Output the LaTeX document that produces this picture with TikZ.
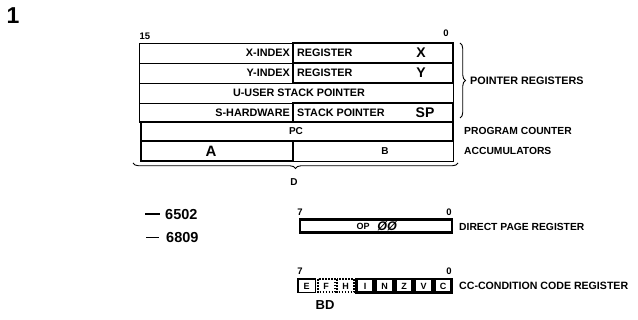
\documentclass[tikz,border=0pt]{standalone}
\usepackage{fontspec}
\setmainfont{Liberation Sans}
\usetikzlibrary{decorations.pathreplacing}
\begin{document}
\begin{tikzpicture}[x=1pt,y=-1pt,
  thinb/.style={draw=black,line width=0.8pt},
  thickb/.style={draw=black,line width=2.6pt},
  dotb/.style={draw=black,line width=2pt,dash pattern=on 1.6pt off 1.4pt},
  txt/.style={inner sep=0pt,font=\bfseries\fontsize{10.8}{12}\selectfont},
  side/.style={inner sep=0pt,anchor=west,font=\bfseries\fontsize{10.3}{12}\selectfont},
  big/.style={inner sep=0pt,font=\bfseries\fontsize{14}{15}\selectfont},
  small/.style={inner sep=0pt,font=\bfseries\fontsize{9.5}{10}\selectfont},
  bit/.style={inner sep=0pt,font=\bfseries\fontsize{9}{10}\selectfont},
  brc/.style={decorate,decoration={brace,amplitude=5.5pt},line width=0.9pt}]
\useasboundingbox (0,0) rectangle (638,320);
% figure number
\node[inner sep=0pt,font=\bfseries\fontsize{23}{25}\selectfont] (num) at (13,16) {1};
% main register block - thin parts
\draw[thinb] (139,43) rectangle (293,63);
\draw[thinb] (139,63) rectangle (293,83);
\draw[thinb] (139,83) rectangle (453,103);
\draw[thinb] (139,103) rectangle (293,122);
\draw[thinb] (293,141) rectangle (453,161);
% thick parts (6502)
\draw[thickb] (293,43) rectangle (453,63);
\draw[thickb] (293,63) rectangle (453,83);
\draw[thickb] (293,103) rectangle (453,122);
\draw[thickb] (141,122) rectangle (453,141);
\draw[thickb] (141,141) rectangle (293,161);
% bit numbers
\node[small] (b15) at (145,36.5) {15};
\node[small] (b0) at (446,33) {0};
% row texts
\node[txt,anchor=east] (xidx) at (290,53) {X-INDEX};
\node[txt,anchor=west] (xreg) at (297,53) {REGISTER};
\node[big] (xname) at (421,53) {X};
\node[txt,anchor=east] (yidx) at (290,73) {Y-INDEX};
\node[txt,anchor=west] (yreg) at (297,73) {REGISTER};
\node[big] (yname) at (421,73) {Y};
\node[txt] (usp) at (299,93) {U-USER STACK POINTER};
\node[txt,anchor=east] (shw) at (290,112.5) {S-HARDWARE};
\node[txt,anchor=west] (ssp) at (297,112.5) {STACK POINTER};
\node[big] (spname) at (425,112.5) {SP};
\node[txt,font=\bfseries\fontsize{10}{11}\selectfont] (pc) at (296,131.5) {PC};
\node[inner sep=0pt,font=\bfseries\fontsize{15}{16}\selectfont] (acca) at (211,151.5) {A};
\node[txt,font=\bfseries\fontsize{10}{11}\selectfont] (accb) at (385,151.5) {B};
% braces
\coordinate (pt) at (460,43);
\coordinate (pb) at (460,118);
\draw[brc] (pt) -- (pb);
\coordinate (dr) at (458,163);
\coordinate (dl) at (133,163);
\draw[brc] (dr) -- (dl);
\node[txt,font=\bfseries\fontsize{10}{11}\selectfont] (dlab) at (294,182) {D};
% side labels
\node[side,font=\bfseries\fontsize{10.8}{12}\selectfont] (ptrreg) at (470,81) {POINTER REGISTERS};
\node[side] (pclab) at (464,131) {PROGRAM COUNTER};
\node[side] (acclab) at (464,151) {ACCUMULATORS};
% legend
\coordinate (l1a) at (145,214);
\coordinate (l1b) at (160,214);
\draw[line width=2.8pt] (l1a) -- (l1b);
\node[inner sep=0pt,anchor=west,font=\bfseries\fontsize{14.5}{16}\selectfont] (l6502) at (165,214.5) {6502};
\coordinate (l2a) at (146,237);
\coordinate (l2b) at (159,237);
\draw[line width=0.7pt] (l2a) -- (l2b);
\node[inner sep=0pt,anchor=west,font=\bfseries\fontsize{14.5}{16}\selectfont] (l6809) at (166,237.5) {6809};
% direct page register
\node[small] (dp7) at (300,212) {7};
\node[small] (dp0) at (449,212) {0};
\draw[thickb] (300,219.5) rectangle (452,232.5);
\node[txt,font=\bfseries\fontsize{9}{10}\selectfont] (dpop) at (363,226.5) {OP};
\node[inner sep=0pt,font=\bfseries\itshape\fontsize{12.5}{13}\selectfont] (dp00) at (387,226) {ØØ};
\node[side] (dplab) at (459,227) {DIRECT PAGE REGISTER};
% condition code register
\node[small] (cc7) at (300,271) {7};
\node[small] (cc0) at (449,271) {0};
\draw[line width=1.4pt] (298,279) rectangle (315.5,292.5);
\draw[dotb] (318,279) rectangle (334.5,292.5);
\draw[dotb] (337,279) rectangle (354,292.5);
\draw[thickb] (356.5,279) rectangle (373.5,292.5);
\draw[thickb] (376,279) rectangle (393,292.5);
\draw[thickb] (395.5,279) rectangle (412.5,292.5);
\draw[thickb] (415,279) rectangle (432,292.5);
\draw[thickb] (434.5,279) rectangle (451.5,292.5);
\node[bit] (ce) at (306.7,286) {E};
\node[bit] (cf) at (326.2,286) {F};
\node[bit] (ch) at (345.5,286) {H};
\node[bit] (ci) at (365,286) {I};
\node[bit] (cn) at (384.5,286) {N};
\node[bit] (cz) at (404,286) {Z};
\node[bit] (cv) at (423.5,286) {V};
\node[bit] (cc) at (443,286) {C};
\node[inner sep=0pt,font=\bfseries\fontsize{13}{14}\selectfont] (bd) at (325,305.5) {BD};
\node[side,font=\bfseries\fontsize{10.6}{12}\selectfont] (cclab) at (459,286) {CC-CONDITION CODE REGISTER};
\end{tikzpicture}
\end{document}
